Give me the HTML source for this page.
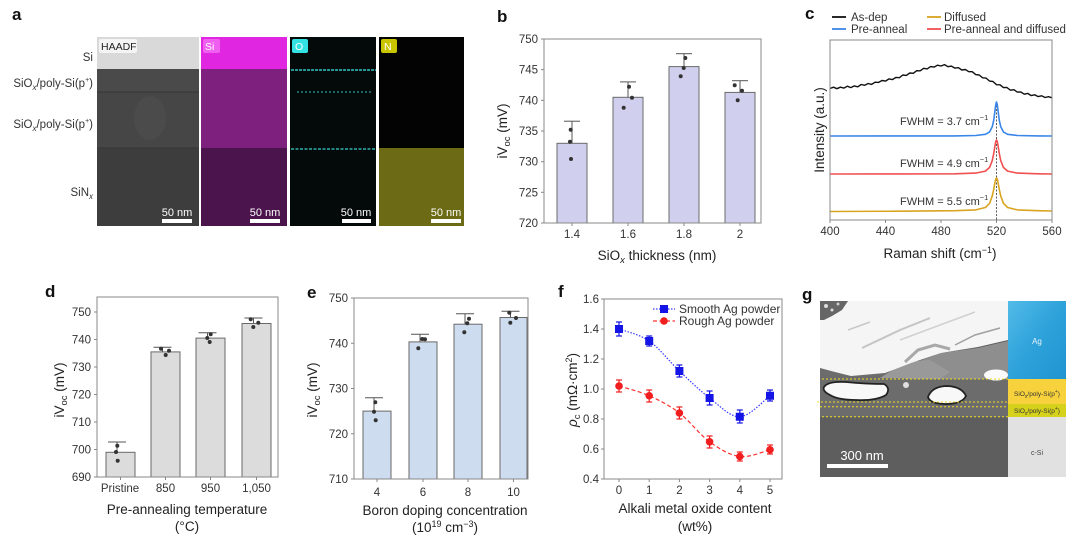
<!DOCTYPE html>
<html><head><meta charset="utf-8"><style>
html,body{margin:0;padding:0;background:#fff}
svg{display:block}
text{font-family:"Liberation Sans",sans-serif}
</style></head><body>
<svg width="1080" height="537" viewBox="0 0 1080 537" xmlns="http://www.w3.org/2000/svg">
<rect width="1080" height="537" fill="#fff"/>

<!-- ============ PANEL A ============ -->
<text x="12" y="20" font-size="17" font-weight="bold" fill="#111">a</text>
<g font-size="11.5" fill="#333" text-anchor="end">
<text x="93" y="61">Si</text>
<text x="93" y="87">SiO<tspan dy="3" font-size="8" font-style="italic">x</tspan><tspan dy="-3">/poly-Si(p</tspan><tspan dy="-5" font-size="7">+</tspan><tspan dy="5">)</tspan></text>
<text x="93" y="128">SiO<tspan dy="3" font-size="8" font-style="italic">x</tspan><tspan dy="-3">/poly-Si(p</tspan><tspan dy="-5" font-size="7">+</tspan><tspan dy="5">)</tspan></text>
<text x="93" y="196">SiN<tspan dy="3" font-size="8" font-style="italic">x</tspan></text>
</g>
<!-- HAADF -->
<rect x="97" y="37" width="102" height="32" fill="#d9d9d9"/>
<rect x="97" y="69" width="102" height="23" fill="#4a4a4a"/>
<rect x="97" y="92" width="102" height="56" fill="#464646"/>
<ellipse cx="150" cy="118" rx="16" ry="22" fill="#4f4f4f" opacity="0.6"/>
<rect x="97" y="148" width="102" height="78" fill="#3d3d3d"/>
<line x1="97" y1="92" x2="199" y2="92" stroke="#363636" stroke-width="1"/>
<line x1="97" y1="148" x2="199" y2="148" stroke="#363636" stroke-width="1"/>
<rect x="99" y="39" width="38" height="14" rx="2" fill="#f4f4f4"/>
<text x="101" y="50" font-size="10.5" fill="#222">HAADF</text>
<!-- Si -->
<rect x="201" y="37" width="86" height="32" fill="#e126e1"/>
<rect x="201" y="69" width="86" height="79" fill="#7e207e"/>
<rect x="201" y="148" width="86" height="78" fill="#4c144c"/>
<rect x="203" y="39" width="17" height="14" rx="2" fill="#f060f0"/>
<text x="205" y="50" font-size="10.5" fill="#fff">Si</text>
<!-- O -->
<rect x="290" y="37" width="86" height="189" fill="#040909"/>
<line x1="291" y1="70" x2="376" y2="70" stroke="#35c4c4" stroke-width="1.5" stroke-dasharray="3 1"/>
<line x1="297" y1="92" x2="372" y2="92" stroke="#2a9a9a" stroke-width="1.2" stroke-dasharray="2 2"/>
<line x1="291" y1="149" x2="376" y2="149" stroke="#30b0b0" stroke-width="1.4" stroke-dasharray="3 1.5"/>
<rect x="292" y="39" width="16" height="14" rx="2" fill="#33e2e2"/>
<text x="295" y="50" font-size="10.5" fill="#fff">O</text>
<!-- N -->
<rect x="379" y="37" width="85" height="111" fill="#030303"/>
<rect x="379" y="148" width="85" height="78" fill="#6c6a14"/>
<rect x="381" y="39" width="16" height="14" rx="2" fill="#c9c600"/>
<text x="384" y="50" font-size="10.5" fill="#fff">N</text>
<!-- scale bars -->
<g font-size="11" fill="#fff" text-anchor="middle">
<text x="177" y="216">50 nm</text><rect x="162" y="219" width="30" height="4" fill="#fff"/>
<text x="265" y="216">50 nm</text><rect x="250" y="219" width="30" height="4" fill="#fff"/>
<text x="356" y="216">50 nm</text><rect x="342" y="219" width="29" height="4" fill="#fff"/>
<text x="446" y="216">50 nm</text><rect x="431" y="219" width="30" height="4" fill="#fff"/>
</g>

<!-- ============ PANEL B ============ -->
<text x="497" y="22" font-size="17" font-weight="bold" fill="#111">b</text>
<g fill="#d0d0ee" stroke="#6a6a6a" stroke-width="1">
<rect x="557" y="143.3" width="30" height="79.7"/>
<rect x="613" y="97.3" width="30" height="125.7"/>
<rect x="669" y="66.6" width="30" height="156.4"/>
<rect x="725" y="92.4" width="30" height="130.6"/>
</g>
<g stroke="#555" stroke-width="1">
<line x1="572" y1="143.3" x2="572" y2="121.2"/><line x1="564" y1="121.2" x2="580" y2="121.2"/>
<line x1="628" y1="97.3" x2="628" y2="81.9"/><line x1="620" y1="81.9" x2="636" y2="81.9"/>
<line x1="684" y1="66.6" x2="684" y2="53.7"/><line x1="676" y1="53.7" x2="692" y2="53.7"/>
<line x1="740" y1="92.4" x2="740" y2="80.7"/><line x1="732" y1="80.7" x2="748" y2="80.7"/>
</g>
<g fill="#333">
<circle cx="570.7" cy="129.7" r="2"/><circle cx="570" cy="141.7" r="2"/><circle cx="571" cy="159" r="2"/>
<circle cx="629" cy="86.7" r="2"/><circle cx="632" cy="97.7" r="2"/><circle cx="623.7" cy="107.7" r="2"/>
<circle cx="685.3" cy="58" r="2"/><circle cx="683.7" cy="68" r="2"/><circle cx="680.7" cy="76.3" r="2"/>
<circle cx="734.7" cy="85.3" r="2"/><circle cx="742" cy="90.7" r="2"/><circle cx="737.7" cy="100.3" r="2"/>
</g>
<rect x="544" y="39" width="217" height="184" fill="none" stroke="#888" stroke-width="1"/>
<g stroke="#888" stroke-width="1">
<line x1="541" y1="39" x2="544" y2="39"/><line x1="541" y1="69.7" x2="544" y2="69.7"/><line x1="541" y1="100.3" x2="544" y2="100.3"/><line x1="541" y1="131" x2="544" y2="131"/><line x1="541" y1="161.7" x2="544" y2="161.7"/><line x1="541" y1="192.3" x2="544" y2="192.3"/><line x1="541" y1="223" x2="544" y2="223"/>
<line x1="572" y1="223" x2="572" y2="226"/><line x1="628" y1="223" x2="628" y2="226"/><line x1="684" y1="223" x2="684" y2="226"/><line x1="740" y1="223" x2="740" y2="226"/>
</g>
<g font-size="11.5" fill="#333" text-anchor="end">
<text x="538" y="43">750</text><text x="538" y="73.7">745</text><text x="538" y="104.3">740</text><text x="538" y="135">735</text><text x="538" y="165.7">730</text><text x="538" y="196.3">725</text><text x="538" y="227">720</text>
</g>
<g font-size="11.5" fill="#333" text-anchor="middle">
<text x="572" y="238">1.4</text><text x="628" y="238">1.6</text><text x="684" y="238">1.8</text><text x="740" y="238">2</text>
</g>
<text x="657" y="260" font-size="13.5" fill="#222" text-anchor="middle">SiO<tspan dy="3" font-size="9.5" font-style="italic">x</tspan><tspan dy="-3"> thickness (nm)</tspan></text>
<text transform="translate(507,131) rotate(-90)" font-size="13.5" fill="#222" text-anchor="middle">iV<tspan dy="3" font-size="9.5">oc</tspan><tspan dy="-3"> (mV)</tspan></text>

<!-- ============ PANEL C ============ -->
<text x="805" y="19" font-size="17" font-weight="bold" fill="#111">c</text>
<g font-size="11.5" fill="#333">
<line x1="832" y1="17" x2="846" y2="17" stroke="#111" stroke-width="1.8"/><text x="851" y="21">As-dep</text>
<line x1="832" y1="29" x2="846" y2="29" stroke="#3a86e8" stroke-width="1.8"/><text x="851" y="33">Pre-anneal</text>
<line x1="927" y1="17" x2="941" y2="17" stroke="#d9a420" stroke-width="1.8"/><text x="944" y="21">Diffused</text>
<line x1="927" y1="29" x2="941" y2="29" stroke="#f05050" stroke-width="1.8"/><text x="944" y="33">Pre-anneal and diffused</text>
</g>
<line x1="996.5" y1="102" x2="996.5" y2="220" stroke="#333" stroke-width="0.8" stroke-dasharray="2 1.5"/>
<polyline fill="none" stroke="#111" stroke-width="1.4" stroke-linejoin="round" points="830,88.5 833.5,87.2 836.9,88.7 840.4,87.2 843.9,88.1 847.3,86.2 850.8,87.6 854.3,85.9 857.8,86.8 861.2,84.5 864.7,85.3 868.2,83.5 871.6,84.4 875.1,82.2 878.6,82.4 882,80.5 885.5,81.1 889,78.9 892.4,79.6 895.9,77.4 899.4,77.7 902.8,75 906.3,75.4 909.8,73 913.3,73.3 916.7,70.7 920.2,70.8 923.7,68.3 927.1,68.9 930.6,66.6 934.1,67.1 937.5,65.2 941,66 944.5,64.6 947.9,66.7 951.4,66.1 954.9,68.1 958.4,67.7 961.8,70 965.3,69.5 968.8,71.7 972.2,71.7 975.7,74.6 979.2,75 982.6,77.8 986.1,78.1 989.6,81.1 993,81.5 996.5,84.7 1000,84.8 1003.4,87.6 1006.9,87.5 1010.4,90.2 1013.9,89.7 1017.3,92.1 1020.8,92 1024.3,94.2 1027.7,93.4 1031.2,95.6 1034.7,94.8 1038.1,96.6 1041.6,95.8 1045.1,97.5 1048.5,96.7 1052,97.8"/>
<polyline fill="none" stroke="#3a86e8" stroke-width="1.6" stroke-linejoin="round" points="830,136 954.9,135.9 975.7,135.5 985.4,134.3 989.6,131.9 992.3,126.6 993.7,120.3 995.1,109.7 995.8,104.3 996.5,102 997.2,104.3 997.9,109.7 999.3,120.3 1000.7,126.6 1003.4,131.9 1007.6,134.3 1017.3,135.5 1038.1,135.9 1052,136"/>
<polyline fill="none" stroke="#f05050" stroke-width="1.6" stroke-linejoin="round" points="830,174 954.9,173.8 975.7,173.1 985.4,171.1 989.6,167.4 992.3,160.4 993.7,153.6 995.1,144.9 995.8,141.4 996.5,140 997.2,141.4 997.9,144.9 999.3,153.6 1000.7,160.4 1003.4,167.4 1007.6,171.1 1017.3,173.1 1038.1,173.8 1052,174"/>
<polyline fill="none" stroke="#d9a420" stroke-width="1.6" stroke-linejoin="round" points="830,211.5 900,211.2 954.9,210.7 975.7,209.9 985.4,207.5 989.6,203.3 992.3,195.9 993.7,189.4 995.1,181.9 995.8,179.1 996.5,178 997.2,179.1 997.9,181.9 999.3,189.4 1000.7,195.9 1003.4,203.3 1007.6,207.5 1017.3,209.9 1038.1,210.7 1052,211"/>
<g font-size="11" fill="#333">
<text x="900" y="125">FWHM = 3.7 cm<tspan dy="-5" font-size="7.5">−1</tspan></text>
<text x="900" y="167">FWHM = 4.9 cm<tspan dy="-5" font-size="7.5">−1</tspan></text>
<text x="900" y="205">FWHM = 5.5 cm<tspan dy="-5" font-size="7.5">−1</tspan></text>
</g>
<rect x="830" y="40" width="222" height="180" fill="none" stroke="#888" stroke-width="1"/>
<g stroke="#888" stroke-width="1">
<line x1="830" y1="220" x2="830" y2="223"/><line x1="885.5" y1="220" x2="885.5" y2="223"/><line x1="941" y1="220" x2="941" y2="223"/><line x1="996.5" y1="220" x2="996.5" y2="223"/><line x1="1052" y1="220" x2="1052" y2="223"/>
</g>
<g font-size="11.5" fill="#333" text-anchor="middle">
<text x="830" y="235">400</text><text x="885.5" y="235">440</text><text x="941" y="235">480</text><text x="996.5" y="235">520</text><text x="1052" y="235">560</text>
</g>
<text x="940" y="258" font-size="13.5" fill="#222" text-anchor="middle">Raman shift (cm<tspan dy="-5" font-size="9">−1</tspan><tspan dy="5">)</tspan></text>
<text transform="translate(824,130) rotate(-90)" font-size="13.5" fill="#222" text-anchor="middle">Intensity (a.u.)</text>

<!-- ============ PANEL D ============ -->
<text x="45" y="297" font-size="17" font-weight="bold" fill="#111">d</text>
<g fill="#dcdcdc" stroke="#6a6a6a" stroke-width="1">
<rect x="106" y="452.3" width="29" height="24.7"/>
<rect x="151" y="351.9" width="29" height="125.1"/>
<rect x="196" y="338.1" width="29" height="138.9"/>
<rect x="242" y="323.5" width="29" height="153.5"/>
</g>
<g stroke="#555" stroke-width="1">
<line x1="117" y1="452.3" x2="117" y2="442"/><line x1="108" y1="442" x2="126" y2="442"/>
<line x1="162.5" y1="351.9" x2="162.5" y2="347.3"/><line x1="153.5" y1="347.3" x2="171.5" y2="347.3"/>
<line x1="207.5" y1="338.1" x2="207.5" y2="332.7"/><line x1="198.5" y1="332.7" x2="216.5" y2="332.7"/>
<line x1="253.5" y1="323.5" x2="253.5" y2="318"/><line x1="244.5" y1="318" x2="262.5" y2="318"/>
</g>
<g fill="#333">
<circle cx="117.3" cy="445.7" r="2"/><circle cx="116" cy="452" r="2"/><circle cx="117.7" cy="460.7" r="2"/>
<circle cx="161" cy="348.7" r="2"/><circle cx="169" cy="350.7" r="2"/><circle cx="165.7" cy="355" r="2"/>
<circle cx="207.3" cy="338" r="2"/><circle cx="210.7" cy="334.3" r="2"/><circle cx="209.7" cy="342" r="2"/>
<circle cx="250.7" cy="319.3" r="2"/><circle cx="258.3" cy="322.7" r="2"/><circle cx="253.3" cy="327" r="2"/>
</g>
<rect x="97" y="297" width="181" height="180" fill="none" stroke="#888" stroke-width="1"/>
<g stroke="#888" stroke-width="1">
<line x1="94" y1="312" x2="97" y2="312"/><line x1="94" y1="339.5" x2="97" y2="339.5"/><line x1="94" y1="367" x2="97" y2="367"/><line x1="94" y1="394.5" x2="97" y2="394.5"/><line x1="94" y1="422" x2="97" y2="422"/><line x1="94" y1="449.5" x2="97" y2="449.5"/><line x1="94" y1="477" x2="97" y2="477"/>
<line x1="120.5" y1="477" x2="120.5" y2="480"/><line x1="165.5" y1="477" x2="165.5" y2="480"/><line x1="210.5" y1="477" x2="210.5" y2="480"/><line x1="256.5" y1="477" x2="256.5" y2="480"/>
</g>
<g font-size="11.5" fill="#333" text-anchor="end">
<text x="91" y="316">750</text><text x="91" y="343.5">740</text><text x="91" y="371">730</text><text x="91" y="398.5">720</text><text x="91" y="426">710</text><text x="91" y="453.5">700</text><text x="91" y="481">690</text>
</g>
<g font-size="11.5" fill="#333" text-anchor="middle">
<text x="120" y="492">Pristine</text><text x="165.5" y="492">850</text><text x="210.5" y="492">950</text><text x="256.5" y="492">1,050</text>
</g>
<text x="187" y="514" font-size="13.5" fill="#222" text-anchor="middle">Pre-annealing temperature</text>
<text x="187" y="531" font-size="13.5" fill="#222" text-anchor="middle">(°C)</text>
<text transform="translate(64,390) rotate(-90)" font-size="13.5" fill="#222" text-anchor="middle">iV<tspan dy="3" font-size="9.5">oc</tspan><tspan dy="-3"> (mV)</tspan></text>

<!-- ============ PANEL E ============ -->
<text x="307" y="298" font-size="17" font-weight="bold" fill="#111">e</text>
<g fill="#cddcee" stroke="#6a6a6a" stroke-width="1">
<rect x="363" y="411.1" width="28" height="67.9"/>
<rect x="409" y="341.9" width="28" height="137.1"/>
<rect x="454" y="324.2" width="28" height="154.8"/>
<rect x="500" y="317.5" width="27" height="161.5"/>
</g>
<g stroke="#555" stroke-width="1">
<line x1="374" y1="411.1" x2="374" y2="397.7"/><line x1="365" y1="397.7" x2="383" y2="397.7"/>
<line x1="420" y1="341.9" x2="420" y2="334.3"/><line x1="411" y1="334.3" x2="429" y2="334.3"/>
<line x1="465" y1="324.2" x2="465" y2="313.7"/><line x1="456" y1="313.7" x2="474" y2="313.7"/>
<line x1="510.5" y1="317.5" x2="510.5" y2="311.3"/><line x1="501.5" y1="311.3" x2="519.5" y2="311.3"/>
</g>
<g fill="#333">
<circle cx="375.3" cy="402.3" r="2"/><circle cx="374" cy="411.7" r="2"/><circle cx="375.7" cy="420.3" r="2"/>
<circle cx="422.3" cy="339" r="2"/><circle cx="425" cy="339.3" r="2"/><circle cx="418.3" cy="348.3" r="2"/>
<circle cx="469" cy="318.7" r="2"/><circle cx="467.3" cy="323.3" r="2"/><circle cx="464.3" cy="332.3" r="2"/>
<circle cx="509.3" cy="312.7" r="2"/><circle cx="516" cy="318" r="2"/><circle cx="510.3" cy="322.7" r="2"/>
</g>
<rect x="354" y="298" width="174" height="181" fill="none" stroke="#888" stroke-width="1"/>
<g stroke="#888" stroke-width="1">
<line x1="351" y1="298" x2="354" y2="298"/><line x1="351" y1="343.25" x2="354" y2="343.25"/><line x1="351" y1="388.5" x2="354" y2="388.5"/><line x1="351" y1="433.75" x2="354" y2="433.75"/><line x1="351" y1="479" x2="354" y2="479"/>
<line x1="377" y1="479" x2="377" y2="482"/><line x1="423" y1="479" x2="423" y2="482"/><line x1="468" y1="479" x2="468" y2="482"/><line x1="513.5" y1="479" x2="513.5" y2="482"/>
</g>
<g font-size="11.5" fill="#333" text-anchor="end">
<text x="348" y="302">750</text><text x="348" y="347.25">740</text><text x="348" y="392.5">730</text><text x="348" y="437.75">720</text><text x="348" y="483">710</text>
</g>
<g font-size="11.5" fill="#333" text-anchor="middle">
<text x="377" y="496">4</text><text x="423" y="496">6</text><text x="468" y="496">8</text><text x="513.5" y="496">10</text>
</g>
<text x="445" y="515" font-size="13.5" fill="#222" text-anchor="middle">Boron doping concentration</text>
<text x="445" y="532" font-size="13.5" fill="#222" text-anchor="middle">(10<tspan dy="-5" font-size="9">19</tspan><tspan dy="5"> cm</tspan><tspan dy="-5" font-size="9">−3</tspan><tspan dy="5">)</tspan></text>
<text transform="translate(317,390) rotate(-90)" font-size="13.5" fill="#222" text-anchor="middle">iV<tspan dy="3" font-size="9.5">oc</tspan><tspan dy="-3"> (mV)</tspan></text>

<!-- ============ PANEL F ============ -->
<text x="558" y="297" font-size="17" font-weight="bold" fill="#111">f</text>
<rect x="604" y="299" width="178" height="180" fill="none" stroke="#888" stroke-width="1"/>
<g stroke="#888" stroke-width="1">
<line x1="601" y1="299" x2="604" y2="299"/><line x1="601" y1="329" x2="604" y2="329"/><line x1="601" y1="359" x2="604" y2="359"/><line x1="601" y1="389" x2="604" y2="389"/><line x1="601" y1="419" x2="604" y2="419"/><line x1="601" y1="449" x2="604" y2="449"/><line x1="601" y1="479" x2="604" y2="479"/>
<line x1="619" y1="479" x2="619" y2="482"/><line x1="649.2" y1="479" x2="649.2" y2="482"/><line x1="679.4" y1="479" x2="679.4" y2="482"/><line x1="709.6" y1="479" x2="709.6" y2="482"/><line x1="739.8" y1="479" x2="739.8" y2="482"/><line x1="770" y1="479" x2="770" y2="482"/>
</g>
<g font-size="11.5" fill="#333" text-anchor="end">
<text x="599" y="303">1.6</text><text x="599" y="333">1.4</text><text x="599" y="363">1.2</text><text x="599" y="393">1.0</text><text x="599" y="423">0.8</text><text x="599" y="453">0.6</text><text x="599" y="483">0.4</text>
</g>
<g font-size="11.5" fill="#333" text-anchor="middle">
<text x="619" y="494">0</text><text x="649.2" y="494">1</text><text x="679.4" y="494">2</text><text x="709.6" y="494">3</text><text x="739.8" y="494">4</text><text x="770" y="494">5</text>
</g>
<path d="M619,329 C624,331 639.1,334 649.2,341 C659.3,348 669.3,361.5 679.4,371 C689.5,380.5 699.5,390.4 709.6,398 C719.7,405.6 729.7,417.1 739.8,416.75 C749.9,416.4 765,399.25 770,395.75" fill="none" stroke="#3a3aff" stroke-width="1.2" stroke-dasharray="1.5 1.5"/>
<path d="M619,386 C624,387.6 639.1,391.25 649.2,395.75 C659.3,400.25 669.3,405.3 679.4,413 C689.5,420.7 699.5,434.55 709.6,441.8 C719.7,449.05 729.7,455.2 739.8,456.5 C749.9,457.8 765,450.9 770,449.75" fill="none" stroke="#ff3030" stroke-width="1.2" stroke-dasharray="4 2.5"/>
<g stroke="#1414e6" stroke-width="1.2">
<line x1="619" y1="322" x2="619" y2="336"/><line x1="616" y1="322" x2="622" y2="322"/><line x1="616" y1="336" x2="622" y2="336"/>
<line x1="649.2" y1="336" x2="649.2" y2="346"/><line x1="646.2" y1="336" x2="652.2" y2="336"/><line x1="646.2" y1="346" x2="652.2" y2="346"/>
<line x1="679.4" y1="365" x2="679.4" y2="377"/><line x1="676.4" y1="365" x2="682.4" y2="365"/><line x1="676.4" y1="377" x2="682.4" y2="377"/>
<line x1="709.6" y1="391" x2="709.6" y2="405"/><line x1="706.6" y1="391" x2="712.6" y2="391"/><line x1="706.6" y1="405" x2="712.6" y2="405"/>
<line x1="739.8" y1="410" x2="739.8" y2="423"/><line x1="736.8" y1="410" x2="742.8" y2="410"/><line x1="736.8" y1="423" x2="742.8" y2="423"/>
<line x1="770" y1="390" x2="770" y2="401"/><line x1="767" y1="390" x2="773" y2="390"/><line x1="767" y1="401" x2="773" y2="401"/>
</g>
<g fill="#1414e6">
<rect x="615" y="325" width="8" height="8"/><rect x="645.2" y="337" width="8" height="8"/><rect x="675.4" y="367" width="8" height="8"/><rect x="705.6" y="394" width="8" height="8"/><rect x="735.8" y="412.75" width="8" height="8"/><rect x="766" y="391.75" width="8" height="8"/>
</g>
<g stroke="#f01e1e" stroke-width="1.2">
<line x1="619" y1="380" x2="619" y2="392"/><line x1="616" y1="380" x2="622" y2="380"/><line x1="616" y1="392" x2="622" y2="392"/>
<line x1="649.2" y1="390" x2="649.2" y2="402"/><line x1="646.2" y1="390" x2="652.2" y2="390"/><line x1="646.2" y1="402" x2="652.2" y2="402"/>
<line x1="679.4" y1="407" x2="679.4" y2="419"/><line x1="676.4" y1="407" x2="682.4" y2="407"/><line x1="676.4" y1="419" x2="682.4" y2="419"/>
<line x1="709.6" y1="436" x2="709.6" y2="448"/><line x1="706.6" y1="436" x2="712.6" y2="436"/><line x1="706.6" y1="448" x2="712.6" y2="448"/>
<line x1="739.8" y1="452" x2="739.8" y2="461"/><line x1="736.8" y1="452" x2="742.8" y2="452"/><line x1="736.8" y1="461" x2="742.8" y2="461"/>
<line x1="770" y1="445" x2="770" y2="454"/><line x1="767" y1="445" x2="773" y2="445"/><line x1="767" y1="454" x2="773" y2="454"/>
</g>
<g fill="#f01e1e">
<circle cx="619" cy="386" r="3.8"/><circle cx="649.2" cy="395.75" r="3.8"/><circle cx="679.4" cy="413" r="3.8"/><circle cx="709.6" cy="441.8" r="3.8"/><circle cx="739.8" cy="456.5" r="3.8"/><circle cx="770" cy="449.75" r="3.8"/>
</g>
<line x1="653" y1="309" x2="675" y2="309" stroke="#3a3aff" stroke-width="1.2" stroke-dasharray="1.5 1.5"/>
<rect x="660" y="305" width="8" height="8" fill="#1414e6"/>
<text x="679" y="313" font-size="12" fill="#333">Smooth Ag powder</text>
<line x1="653" y1="321" x2="675" y2="321" stroke="#ff3030" stroke-width="1.2" stroke-dasharray="4 2.5"/>
<circle cx="664" cy="321" r="3.8" fill="#f01e1e"/>
<text x="679" y="325" font-size="12" fill="#333">Rough Ag powder</text>
<text x="695" y="513" font-size="13.5" fill="#222" text-anchor="middle">Alkali metal oxide content</text>
<text x="695" y="531" font-size="13.5" fill="#222" text-anchor="middle">(wt%)</text>
<text transform="translate(577,390) rotate(-90)" font-size="13.5" fill="#222" text-anchor="middle"><tspan font-style="italic">ρ</tspan><tspan dy="3" font-size="9.5">c</tspan><tspan dy="-3"> (mΩ·cm</tspan><tspan dy="-5" font-size="9">2</tspan><tspan dy="5">)</tspan></text>

<!-- ============ PANEL G ============ -->
<text x="802" y="300" font-size="17" font-weight="bold" fill="#111">g</text>
<rect x="820" y="301" width="188" height="176" fill="#5e5e5e"/>
<rect x="820" y="366" width="188" height="51" fill="#6c6c6c"/>
<polygon points="905,366 941,353 978,348 1008,341 1008,379 905,379" fill="#8e8e8e"/>
<polygon points="880,378 905,362 930,360 950,372 940,379" fill="#999"/>
<polygon points="820,301 1008,301 1008,340 978,347 941,353 911,363 885,373 851,376 835,372 820,368" fill="#f5f5f5"/>
<path d="M862,348 L900,330 L930,318" stroke="#c4c4c4" stroke-width="2" fill="none"/>
<path d="M900,340 L940,325 L975,312" stroke="#d0d0d0" stroke-width="1.5" fill="none"/>
<path d="M905,362 L918,350 L935,345 L950,349" stroke="#a8a8a8" stroke-width="3" fill="none"/>
<path d="M955,345 L975,335 L1000,328" stroke="#a0a0a0" stroke-width="1.5" fill="none"/>
<path d="M848,330 L870,322" stroke="#c8c8c8" stroke-width="1.5" fill="none"/>
<path d="M820,301 L848,301 L842,310 L832,316 L824,320 L820,320 Z" fill="#666"/>
<circle cx="826" cy="306" r="2" fill="#ddd"/><circle cx="832" cy="310" r="1.5" fill="#ddd"/><circle cx="838" cy="304" r="1.5" fill="#ccc"/>
<ellipse cx="996" cy="375" rx="12" ry="5.5" fill="#fafafa"/>
<path d="M824,387 Q828,381 846,382 Q866,384 884,384 Q891,388 886,395 Q876,401 856,400 Q838,400 830,395 Q822,391 824,387 Z" fill="#f8f8f8" stroke="#222" stroke-width="1.8"/>
<path d="M928,397 Q932,386 948,386 Q962,387 966,396 Q962,404 946,404 Q930,404 928,397 Z" fill="#f8f8f8" stroke="#222" stroke-width="1.8"/>
<circle cx="906" cy="385" r="3" fill="#e0e0e0"/>
<g stroke="#f0e020" stroke-width="1" stroke-dasharray="2 2" fill="none">
<line x1="822" y1="379" x2="1052" y2="379"/>
<line x1="817" y1="402" x2="1040" y2="402"/>
<line x1="820" y1="406.7" x2="1008" y2="406.7"/>
<line x1="822" y1="416.7" x2="1008" y2="416.7"/>
</g>
<!-- right column -->
<defs><linearGradient id="agg" x1="0" y1="0" x2="1" y2="1"><stop offset="0" stop-color="#52bbe8"/><stop offset="0.5" stop-color="#2ea2da"/><stop offset="1" stop-color="#1f94d0"/></linearGradient></defs>
<rect x="1008" y="301" width="58" height="78" fill="url(#agg)"/>
<rect x="1008" y="379" width="58" height="25" fill="#f8d23c"/>
<rect x="1008" y="404" width="58" height="13" fill="#d6d21c"/>
<rect x="1008" y="417" width="58" height="60" fill="#e1e1e1"/>
<text x="1037" y="344" font-size="8" fill="#e8f4fb" text-anchor="middle">Ag</text>
<text x="1037" y="396" font-size="6.5" fill="#333" text-anchor="middle">SiO<tspan dy="2" font-size="5">x</tspan><tspan dy="-2">/poly-Si(p</tspan><tspan dy="-3" font-size="5">+</tspan><tspan dy="3">)</tspan></text>
<text x="1037" y="413" font-size="6.5" fill="#333" text-anchor="middle">SiO<tspan dy="2" font-size="5">x</tspan><tspan dy="-2">/poly-Si(p</tspan><tspan dy="-3" font-size="5">+</tspan><tspan dy="3">)</tspan></text>
<text x="1037" y="455" font-size="7" fill="#444" text-anchor="middle">c-Si</text>
<text x="862" y="460" font-size="13" fill="#fff" text-anchor="middle">300 nm</text>
<rect x="827" y="464" width="61" height="4" fill="#fff"/>
</svg>
</body></html>
